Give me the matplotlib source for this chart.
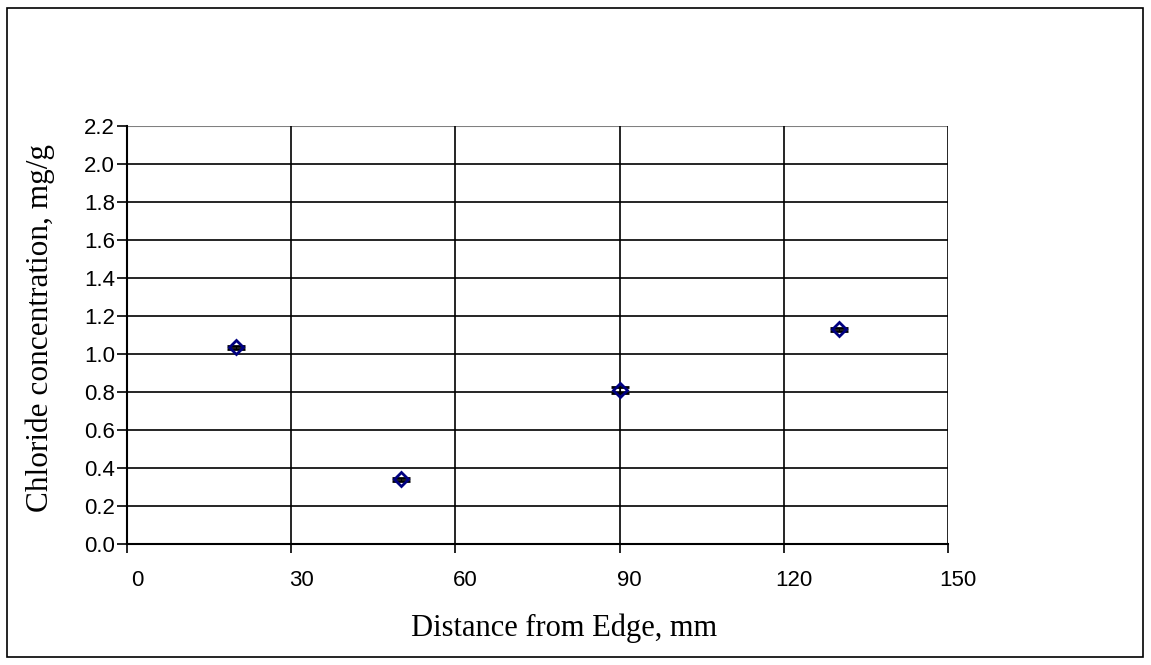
import matplotlib
matplotlib.use("Agg")
import matplotlib.pyplot as plt
from matplotlib.patches import Rectangle
from matplotlib.transforms import ScaledTranslation

distance = [20, 50, 90, 130]
chloride = [1.035, 0.342, 0.81, 1.13]
err = [0.008, 0.008, 0.015, 0.008]
xticks = [0, 30, 60, 90, 120, 150]
yticks = [0.0, 0.2, 0.4, 0.6, 0.8, 1.0, 1.2, 1.4, 1.6, 1.8, 2.0, 2.2]

fig = plt.figure(figsize=(11.51, 6.65), dpi=100)
W, H = 1151, 665
ax = fig.add_axes([127 / W, 1 - 544 / H, (948 - 127) / W, (544 - 126) / H])

fig.patches.append(Rectangle((7 / W, 8 / H), (1143 - 7) / W, (657 - 8) / H,
                             transform=fig.transFigure, fill=False,
                             edgecolor='black', linewidth=1.2))

ax.set_xlim(0, 150)
ax.set_ylim(0, 2.2)
ax.set_xticks(xticks)
ax.set_yticks(yticks)
ax.set_yticklabels([f"{v:.1f}" for v in yticks])
for v in yticks[1:-1]:
    ax.axhline(v, color='black', linewidth=1.2, zorder=1)
ax.axhline(2.2, color='#808080', linewidth=1.5, zorder=1)
for v in xticks[1:]:
    ax.axvline(v, color='black', linewidth=1.2, zorder=1)

for s in ['top', 'right']:
    ax.spines[s].set_visible(False)
ax.spines['left'].set_linewidth(1.5)
ax.spines['bottom'].set_linewidth(1.5)

ax.errorbar(distance, chloride, yerr=err, fmt='D', markersize=7.5,
            markerfacecolor='none', markeredgecolor='#000080', markeredgewidth=2,
            ecolor='black', elinewidth=0.8, capsize=6.5, capthick=1.5, zorder=3)

for lab in ax.get_xticklabels() + ax.get_yticklabels():
    lab.set_fontfamily(['Liberation Sans', 'DejaVu Sans'])
    lab.set_fontsize(16)
ax.tick_params(axis='y', direction='out', length=7, width=1.2, pad=1.5)
ax.tick_params(axis='x', direction='out', length=6.5, width=1.2, pad=12)
off = ScaledTranslation(10 / 100, 0, fig.dpi_scale_trans)
for lab in ax.get_xticklabels():
    lab.set_transform(lab.get_transform() + off)

serif = ['Liberation Serif', 'DejaVu Serif']
fig.text(564 / W, 1 - 628 / H, 'Distance from Edge, mm', fontfamily=serif,
         fontsize=22, ha='center', va='center')
fig.text(40 / W, 1 - 328 / H, 'Chloride concentration, mg/g', fontfamily=serif,
         fontsize=22.5, ha='center', va='center', rotation=90)

fig.savefig('out.png', dpi=100)
